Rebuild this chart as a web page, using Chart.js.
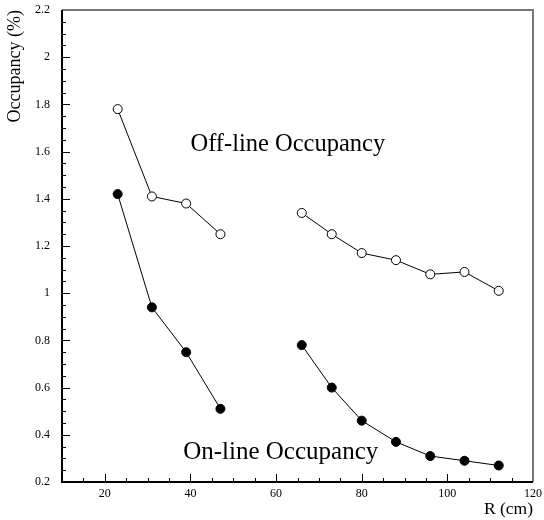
<!DOCTYPE html>
<html>
<head>
<meta charset="utf-8">
<script src="https://cdn.jsdelivr.net/npm/chart.js@4/dist/chart.umd.min.js"></script>
<style>
    html, body { margin: 0; padding: 0; background: #fff; }
    #wrap { width: 544px; height: 520px; }
</style>
</head>
<body>
<div id="wrap"><canvas id="grafico"></canvas></div>
<script>
// radios (cm), el hueco entre 47 y 66 va como null
const radios = [23, 31, 39, 47, 56, 66, 73, 80, 88, 96, 104, 112];
const offline = [1.78, 1.41, 1.38, 1.25, null, 1.34, 1.25, 1.17, 1.14, 1.08, 1.09, 1.01];
const online = [1.42, 0.94, 0.75, 0.51, null, 0.78, 0.60, 0.46, 0.37, 0.31, 0.29, 0.27];
const xTicks = [20, 40, 60, 80, 100, 120];
const etiquetas = [
    { texto: 'Off-line Occupancy', x: 40, y: 1.63, size: 24.5 },
    { texto: 'On-line Occupancy', x: 38.3, y: 0.325, size: 25 }
];

const serif = '"Liberation Serif", "DejaVu Serif", serif';

const puntos = arr => radios.map((r, i) => ({ x: r, y: arr[i] }));

// marcos y ticks hacia adentro
const marcoPlugin = {
    id: 'marco',
    afterDraw(chart) {
        const { ctx, chartArea: a, scales: { x, y } } = chart;
        ctx.save();
        ctx.lineWidth = 1;
        ctx.strokeStyle = '#000';
        for (let v = 10; v <= 120; v += 5) {
            const px = Math.round(x.getPixelForValue(v)) + 0.5;
            const largo = v % 20 === 0 ? 8 : 4;
            ctx.beginPath();
            ctx.moveTo(px, a.bottom);
            ctx.lineTo(px, a.bottom - largo);
            ctx.stroke();
        }
        for (let k = 4; k <= 44; k++) {
            const py = Math.round(y.getPixelForValue(k * 0.05)) + 0.5;
            const largo = k % 4 === 0 ? 8 : 4;
            ctx.beginPath();
            ctx.moveTo(a.left, py);
            ctx.lineTo(a.left + largo, py);
            ctx.stroke();
        }
        ctx.lineWidth = 2;
        ctx.strokeStyle = '#777';
        ctx.beginPath();
        ctx.moveTo(a.left, a.top);
        ctx.lineTo(a.right, a.top);
        ctx.lineTo(a.right, a.bottom);
        ctx.stroke();
        ctx.strokeStyle = '#000';
        ctx.beginPath();
        ctx.moveTo(a.left, a.top);
        ctx.lineTo(a.left, a.bottom);
        ctx.lineTo(a.right, a.bottom);
        ctx.stroke();
        ctx.fillStyle = '#000';
        ctx.textAlign = 'left';
        ctx.textBaseline = 'middle';
        etiquetas.forEach(e => {
            ctx.font = e.size + 'px ' + serif;
            ctx.fillText(e.texto, x.getPixelForValue(e.x), y.getPixelForValue(e.y));
        });
        ctx.restore();
    }
};

new Chart(document.getElementById('grafico'), {
    type: 'line',
    data: {
        datasets: [
            {
                label: 'Off-line',
                data: puntos(offline),
                borderColor: '#000',
                borderWidth: 1,
                backgroundColor: '#fff',
                pointBorderColor: '#000',
                pointBorderWidth: 1,
                pointRadius: 4.5,
                spanGaps: false
            },
            {
                label: 'On-line',
                data: puntos(online),
                borderColor: '#000',
                borderWidth: 1,
                backgroundColor: '#000',
                pointBorderColor: '#000',
                pointRadius: 4.5,
                spanGaps: false
            }
        ]
    },
    options: {
        animation: false,
        responsive: true,
        maintainAspectRatio: false,
        layout: { padding: { top: 10, right: 11, left: 0, bottom: 0 } },
        plugins: { legend: { display: false }, tooltip: { enabled: false } },
        scales: {
            x: {
                type: 'linear',
                min: 10,
                max: 120,
                grid: { display: false, drawTicks: false },
                border: { display: false },
                afterBuildTicks: s => { s.ticks = xTicks.map(v => ({ value: v })); },
                afterFit: s => {
                    s.height = 38;
                    s.paddingLeft = 0;
                    s.paddingRight = 0;
                },
                ticks: {
                    color: '#000',
                    font: { family: serif, size: 12 },
                    padding: 5,
                    maxRotation: 0
                },
                title: {
                    display: true,
                    text: 'R (cm)',
                    align: 'end',
                    color: '#000',
                    font: { family: serif, size: 17.5 },
                    padding: { top: 0, bottom: 0 }
                }
            },
            y: {
                min: 0.2,
                max: 2.2,
                grid: { display: false, drawTicks: false },
                border: { display: false },
                afterFit: s => {
                    s.width = 62;
                    s.paddingTop = 0;
                    s.paddingBottom = 0;
                },
                ticks: {
                    stepSize: 0.2,
                    color: '#000',
                    font: { family: serif, size: 12 },
                    padding: 12,
                    callback: v => String(parseFloat(v.toFixed(1)))
                },
                title: {
                    display: true,
                    text: 'Occupancy (%)',
                    align: 'end',
                    color: '#000',
                    font: { family: serif, size: 18 },
                    padding: { top: 4, bottom: 0 }
                }
            }
        }
    },
    plugins: [marcoPlugin]
});
</script>
</body>
</html>
